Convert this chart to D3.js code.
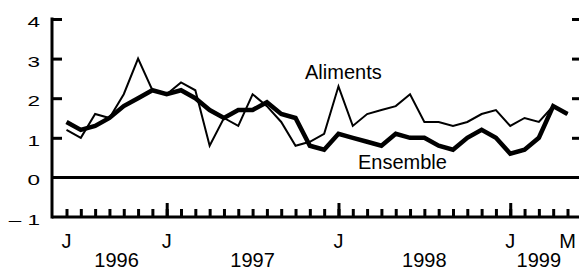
<!DOCTYPE html>
<html lang="fr">
<head>
<meta charset="utf-8">
<script src="https://d3js.org/d3.v7.min.js"></script>
<style type="text/css">
body {
	margin: 0;
	background-color: #ffffff;
	font-family: "Liberation Sans", Arial, sans-serif;
}
.axis line, .axis path {
	fill: none;
	stroke: #000;
	stroke-width: 3;
}
</style>
</head>
<body>
<div id="chart"></div>
<script type="text/javascript">

// months, June 1996 to May 1999
var months = ["1996-06","1996-07","1996-08","1996-09","1996-10","1996-11","1996-12",
	"1997-01","1997-02","1997-03","1997-04","1997-05","1997-06","1997-07","1997-08","1997-09","1997-10","1997-11","1997-12",
	"1998-01","1998-02","1998-03","1998-04","1998-05","1998-06","1998-07","1998-08","1998-09","1998-10","1998-11","1998-12",
	"1999-01","1999-02","1999-03","1999-04","1999-05"];

var aliments = [1.2, 1.0, 1.6, 1.5, 2.1, 3.0, 2.2,
	2.1, 2.4, 2.2, 0.8, 1.5, 1.3, 2.1, 1.8, 1.4, 0.8, 0.9, 1.1,
	2.3, 1.3, 1.6, 1.7, 1.8, 2.1, 1.4, 1.4, 1.3, 1.4, 1.6, 1.7,
	1.3, 1.5, 1.4, 1.8, 1.6];

var ensemble = [1.4, 1.2, 1.3, 1.5, 1.8, 2.0, 2.2,
	2.1, 2.2, 2.0, 1.7, 1.5, 1.7, 1.7, 1.9, 1.6, 1.5, 0.8, 0.7,
	1.1, 1.0, 0.9, 0.8, 1.1, 1.0, 1.0, 0.8, 0.7, 1.0, 1.2, 1.0,
	0.6, 0.7, 1.0, 1.8, 1.6];

var yTicks = [-1, 0, 1, 2, 3, 4];
var yTickLabels = ["\u2013 1", "0", "1", "2", "3", "4"];

// month labels under the axis
var monthLabels = [["1996-06", "J"], ["1997-01", "J"], ["1998-01", "J"], ["1999-01", "J"], ["1999-05", "M"]];
// year labels, placed between first and last month of that year
var yearLabels = [["1996", "1996-06", "1997-01"], ["1997", "1997-01", "1998-01"],
	["1998", "1998-01", "1999-01"], ["1999", "1999-01", "1999-05"]];

var width = 579;
var height = 271;
var left = 52;

var x = d3.scalePoint()
	.domain(months)
	.range([66.5, 567.5]);

var y = d3.scaleLinear()
	.domain([-1, 4])
	.range([217, 19]);

var svg = d3.select("#chart")
	.append("svg")
	.attr("width", width)
	.attr("height", height);

// month ticks pointing up from the bottom line
svg.append("g")
	.attr("class", "axis")
	.attr("transform", "translate(0," + y(-1) + ")")
	.call(d3.axisBottom(x).tickSize(-8).tickSizeOuter(0).tickFormat(""))
	.select(".domain").remove();

// January ticks are taller
svg.append("g")
	.attr("class", "axis")
	.attr("transform", "translate(0," + y(-1) + ")")
	.call(d3.axisBottom(x)
		.tickValues(months.filter(function(m) { return m.slice(5) == "01"; }))
		.tickSize(-14).tickSizeOuter(0).tickFormat(""))
	.select(".domain").remove();

// left axis, ticks inward
svg.append("g")
	.attr("class", "axis")
	.attr("transform", "translate(" + left + ",0)")
	.call(d3.axisLeft(y).tickValues([1, 2, 3, 4]).tickSize(-10).tickSizeOuter(0).tickFormat(""))
	.select(".domain").remove();

// right side ticks
svg.append("g")
	.attr("class", "axis")
	.attr("transform", "translate(" + (width + 1) + ",0)")
	.call(d3.axisLeft(y).tickValues([1, 2, 3, 4]).tickSize(8).tickSizeOuter(0).tickFormat(""))
	.select(".domain").remove();

// frame lines
svg.append("line")
	.attr("x1", left).attr("x2", left)
	.attr("y1", y(4) - 1.5).attr("y2", y(-1) + 1.5)
	.style("stroke", "#000").style("stroke-width", 3);

[-1, 0].forEach(function(v) {
	svg.append("line")
		.attr("x1", left).attr("x2", width)
		.attr("y1", y(v)).attr("y2", y(v))
		.style("stroke", "#000").style("stroke-width", 3);
});

// y labels (stretched horizontally like the original)
svg.selectAll(".ylab")
	.data(yTicks)
	.enter()
	.append("text")
	.attr("class", "ylab")
	.attr("transform", function(d) { return "translate(40," + (y(d) + 8) + ") scale(1.5,1)"; })
	.attr("text-anchor", "end")
	.style("font-size", "15px")
	.text(function(d, i) { return yTickLabels[i]; });

// x labels
svg.selectAll(".mlab")
	.data(monthLabels)
	.enter()
	.append("text")
	.attr("x", function(d) { return x(d[0]); })
	.attr("y", 248)
	.attr("text-anchor", "middle")
	.style("font-size", "20px")
	.text(function(d) { return d[1]; });

svg.selectAll(".ylabx")
	.data(yearLabels)
	.enter()
	.append("text")
	.attr("x", function(d) { return (x(d[1]) + x(d[2])) / 2; })
	.attr("y", 267)
	.attr("text-anchor", "middle")
	.style("font-size", "20px")
	.text(function(d) { return d[0]; });

// series
var line = d3.line()
	.x(function(d, i) { return x(months[i]); })
	.y(function(d) { return y(d); });

svg.append("path")
	.datum(aliments)
	.attr("d", line)
	.style("fill", "none")
	.style("stroke", "#000")
	.style("stroke-width", 2);

svg.append("path")
	.datum(ensemble)
	.attr("d", line)
	.style("fill", "none")
	.style("stroke", "#000")
	.style("stroke-width", 4.5);

// series names
svg.append("text")
	.attr("x", 305)
	.attr("y", 79)
	.style("font-size", "20px")
	.text("Aliments");

svg.append("text")
	.attr("x", 358)
	.attr("y", 169)
	.style("font-size", "20px")
	.text("Ensemble");

</script>
</body>
</html>
